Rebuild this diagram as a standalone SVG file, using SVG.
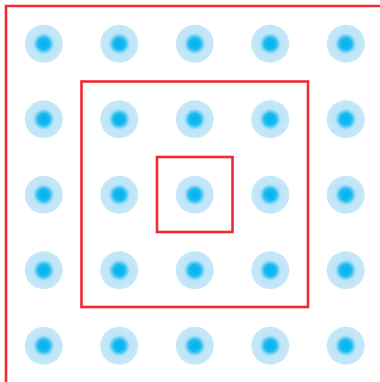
<svg xmlns="http://www.w3.org/2000/svg" width="380" height="382" viewBox="0 0 380 382">
<defs>
<radialGradient id="g" cx="0.5" cy="0.5" r="0.5">
<stop offset="0" stop-color="#00b2ef"/>
<stop offset="0.3" stop-color="#18baf0"/>
<stop offset="0.55" stop-color="#bde5f8"/>
<stop offset="1" stop-color="#c6e8f8"/>
</radialGradient>
<circle id="d" r="19" fill="url(#g)"/>
</defs>
<style>.f{fill:none;stroke:#ee2a33;stroke-width:2.6}</style>
<rect width="380" height="382" fill="#fff"/>
<g id="dots">
<use href="#d" x="43.75" y="43.75"/><use href="#d" x="119.25" y="43.75"/><use href="#d" x="194.75" y="43.75"/><use href="#d" x="270.25" y="43.75"/><use href="#d" x="345.75" y="43.75"/>
<use href="#d" x="43.75" y="119.25"/><use href="#d" x="119.25" y="119.25"/><use href="#d" x="194.75" y="119.25"/><use href="#d" x="270.25" y="119.25"/><use href="#d" x="345.75" y="119.25"/>
<use href="#d" x="43.75" y="194.75"/><use href="#d" x="119.25" y="194.75"/><use href="#d" x="194.75" y="194.75"/><use href="#d" x="270.25" y="194.75"/><use href="#d" x="345.75" y="194.75"/>
<use href="#d" x="43.75" y="270.25"/><use href="#d" x="119.25" y="270.25"/><use href="#d" x="194.75" y="270.25"/><use href="#d" x="270.25" y="270.25"/><use href="#d" x="345.75" y="270.25"/>
<use href="#d" x="43.75" y="345.75"/><use href="#d" x="119.25" y="345.75"/><use href="#d" x="194.75" y="345.75"/><use href="#d" x="270.25" y="345.75"/><use href="#d" x="345.75" y="345.75"/>
</g>
<g id="frames">
<path class="f" d="M6 382V6H380"/>
<rect class="f" x="81.5" y="81.5" width="226.5" height="225.5"/>
<rect class="f" x="157" y="157" width="75.5" height="75"/>
</g>
</svg>
